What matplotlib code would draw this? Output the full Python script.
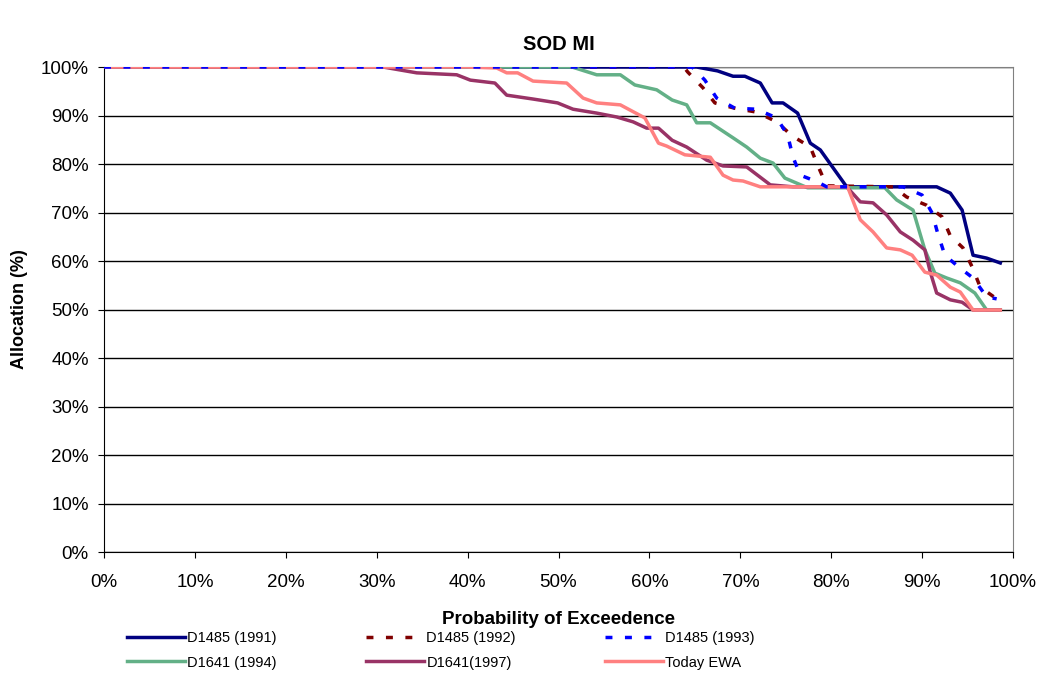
import matplotlib
matplotlib.use('Agg')
import matplotlib.pyplot as plt
from matplotlib.ticker import PercentFormatter

plt.rcParams['font.family'] = ['Liberation Sans', 'DejaVu Sans']

# probability of exceedence (%) / allocation (%) for each study
x_1991 = [0, 64.5, 65.2, 67.5, 69.2, 70.5, 72.2, 73.5, 74.7, 76.3, 77.7, 78.8, 81.7, 91.6, 93.1, 94.4, 95.6, 97.1, 98.6]
y_1991 = [100, 100, 100, 99.2, 98.1, 98.1, 96.7, 92.6, 92.6, 90.5, 84.3, 82.9, 75.3, 75.3, 74.0, 70.5, 61.2, 60.6, 59.6]

x_1992 = [0, 63.8, 64.2, 65.9, 67.2, 69.4, 71.8, 74.0, 75.7, 77.7, 78.5, 79.5, 86.8, 88.3, 90.5, 92.2, 93.1, 94.5, 95.5, 96.4, 98.2]
y_1992 = [100, 100, 99.0, 95.7, 92.6, 91.5, 90.7, 88.7, 85.8, 83.5, 79.8, 75.5, 75.3, 73.2, 71.5, 69.1, 65.2, 62.7, 58.8, 54.6, 52.2]

x_1993 = [0, 64.7, 66.1, 67.4, 69.4, 71.8, 74.0, 75.2, 75.8, 76.6, 78.5, 79.5, 87.9, 90.0, 91.1, 91.7, 92.5, 94.0, 95.6, 97.1, 98.2]
y_1993 = [100, 100, 97.3, 93.6, 91.5, 91.3, 89.5, 86.0, 81.4, 77.7, 76.3, 75.3, 75.3, 73.6, 69.9, 65.8, 61.2, 58.8, 56.5, 52.6, 52.2]

x_1994 = [0, 51.5, 54.2, 56.8, 58.4, 60.8, 62.5, 64.1, 65.2, 66.7, 69.2, 70.7, 72.2, 73.6, 74.9, 77.4, 85.9, 87.2, 89.0, 90.3, 91.4, 92.7, 94.2, 95.8, 97.1, 98.6]
y_1994 = [100, 100, 98.4, 98.4, 96.3, 95.3, 93.2, 92.2, 88.5, 88.5, 85.4, 83.5, 81.2, 80.2, 77.1, 75.1, 75.1, 72.6, 70.5, 62.3, 57.5, 56.5, 55.5, 53.4, 49.9, 49.9]

x_1997 = [0, 30.7, 34.4, 38.8, 40.3, 43.0, 44.3, 47.2, 49.9, 51.6, 54.2, 56.4, 58.2, 59.7, 61.0, 62.5, 64.1, 66.3, 68.1, 70.7, 73.3, 75.8, 81.7, 83.2, 84.6, 86.1, 87.6, 89.0, 90.3, 90.9, 91.6, 93.1, 94.4, 95.6, 98.6]
y_1997 = [100, 100, 98.8, 98.4, 97.3, 96.7, 94.2, 93.4, 92.6, 91.3, 90.5, 89.7, 88.7, 87.4, 87.4, 84.9, 83.5, 80.8, 79.6, 79.4, 75.7, 75.3, 75.3, 72.2, 72.0, 69.5, 66.0, 64.3, 62.3, 57.7, 53.4, 52.0, 51.5, 49.9, 49.9]

x_ewa = [0, 39.9, 43.2, 44.3, 45.5, 47.2, 50.9, 52.7, 54.2, 56.8, 57.9, 59.5, 61.0, 61.9, 63.9, 66.7, 68.1, 69.2, 70.3, 72.2, 81.8, 83.2, 84.6, 86.1, 87.6, 88.9, 90.3, 91.6, 93.1, 94.2, 95.6, 98.6]
y_ewa = [100, 100, 99.8, 98.8, 98.8, 97.1, 96.7, 93.6, 92.6, 92.2, 91.1, 89.5, 84.3, 83.7, 81.9, 81.4, 77.7, 76.7, 76.5, 75.3, 75.3, 68.5, 66.0, 62.7, 62.3, 61.2, 57.7, 57.1, 54.6, 53.6, 49.9, 49.9]

fig = plt.figure(figsize=(10.39, 6.75), dpi=100)
ax = fig.add_axes([0.1001, 0.1822, 0.8749, 0.7185])

lw = 2.5
dots = (0, (2.0, 3.6))
# later series drawn on top, like the spreadsheet
l1, = ax.plot(x_1991, y_1991, color='#000080', lw=lw, label='D1485 (1991)', zorder=3)
l2, = ax.plot(x_1992, y_1992, color='#800000', lw=lw, ls=dots, label='D1485 (1992)', zorder=4)
l3, = ax.plot(x_1993, y_1993, color='#0000FF', lw=lw, ls=dots, label='D1485 (1993)', zorder=9)
l4, = ax.plot(x_1994, y_1994, color='#63B087', lw=lw, label='D1641 (1994)', zorder=6)
l5, = ax.plot(x_1997, y_1997, color='#993366', lw=lw, label='D1641(1997)', zorder=7)
l6, = ax.plot(x_ewa, y_ewa, color='#FF8080', lw=lw, label='Today EWA', zorder=8)

ax.set_xlim(0, 100)
ax.set_ylim(0, 100)
ax.set_xticks(range(0, 101, 10))
ax.set_yticks(range(0, 101, 10))
ax.xaxis.set_major_formatter(PercentFormatter(decimals=0))
ax.yaxis.set_major_formatter(PercentFormatter(decimals=0))
ax.tick_params(labelsize=13.5, length=4, color='black')
ax.tick_params(axis='x', pad=12)
ax.tick_params(axis='y', pad=7)
ax.grid(axis='y', color='black', lw=1)
for s in ax.spines.values():
    s.set_color('#808080')
ax.spines['left'].set_color('black')
ax.spines['bottom'].set_color('black')

ax.set_title('SOD MI', fontsize=14.5, fontweight='bold', pad=12)
ax.set_xlabel('Probability of Exceedence', fontsize=13.5, fontweight='bold', labelpad=14)
ax.set_ylabel('Allocation (%)', fontsize=13, fontweight='bold', labelpad=9)

# legend fills row by row: 1991, 1992, 1993 / 1994, 1997, EWA
handles = [l1, l4, l2, l5, l3, l6]
fig.legend(handles, [h.get_label() for h in handles],
           loc='center left', bbox_to_anchor=(0.1222, 0.0363), ncol=3, frameon=False,
           fontsize=10.5, handlelength=4.0, handletextpad=0.15, columnspacing=6.1,
           labelspacing=0.7, borderpad=0, borderaxespad=0)

fig.savefig('out.png', dpi=100)
